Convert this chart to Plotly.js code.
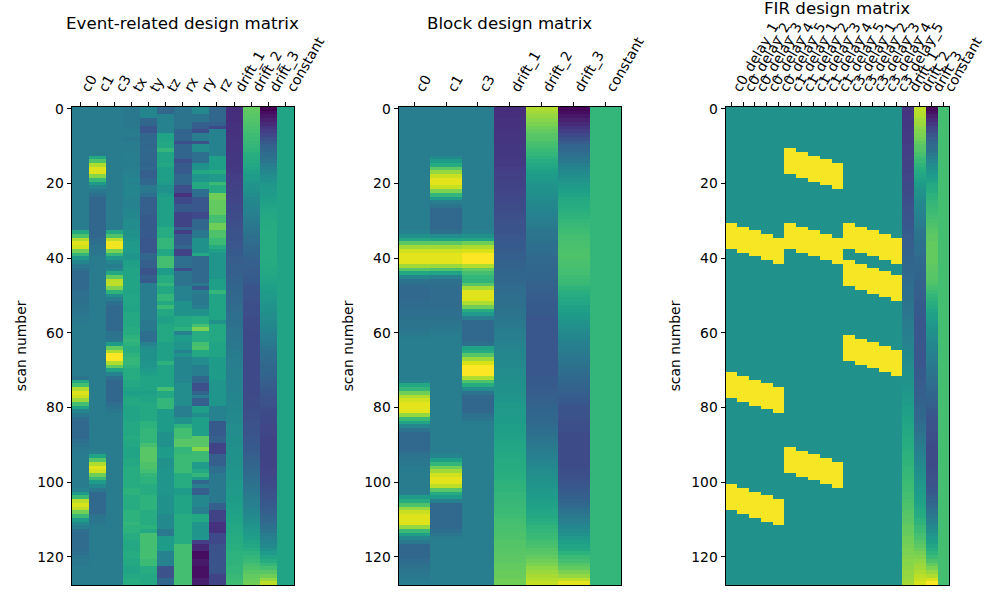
<!DOCTYPE html>
<html>
<head>
<meta charset="utf-8">
<script src="https://cdn.plot.ly/plotly-3.0.1.min.js"></script>
<style>html,body{margin:0;padding:0;background:#fff}</style>
</head>
<body>
<div id="chart" style="width:1000px;height:600px"></div>
<script>
// ---------- Tick labels ----------
const eventLabels = ["c0","c1","c3","tx","ty","tz","rx","ry","rz","drift_1","drift_2","drift_3","constant"];
const blockLabels = ["c0","c1","c3","drift_1","drift_2","drift_3","constant"];
const firLabels = ["c0_delay_1","c0_delay_2","c0_delay_3","c0_delay_4","c0_delay_5",
  "c1_delay_1","c1_delay_2","c1_delay_3","c1_delay_4","c1_delay_5",
  "c3_delay_1","c3_delay_2","c3_delay_3","c3_delay_4","c3_delay_5",
  "drift_1","drift_2","drift_3","constant"];
const yTicks = [0,20,40,60,80,100,120];

// ---------- Event-related design matrix (colour level in percent, one value per scan) ----------
const ev_c0 = [41,41,41,41,41,41,41,41,41,41,41,41,41,41,41,41,
41,41,41,41,41,41,41,41,41,41,41,41,41,41,41,41,
41,60,72,88,95,93,78,66,53,45,40,37,34,34,34,34,
34,36,36,37,37,38,38,39,40,40,41,41,41,41,41,41,
41,41,41,41,41,41,41,41,38,60,70,88,95,92,85,70,
58,45,40,35,34,34,34,34,34,36,38,40,41,41,41,41,
41,41,41,41,41,41,44,55,68,90,94,90,78,68,55,47,
42,36,35,35,35,35,35,37,39,40,40,41,41,41,41,41];
const ev_c1 = [41,41,41,41,41,41,41,41,41,41,41,41,41,60,72,88,
95,95,82,68,55,45,40,36,33,33,33,33,33,33,33,33,
33,33,33,35,37,38,39,40,41,41,41,41,41,41,41,41,
41,41,41,41,41,41,41,41,41,41,41,41,41,41,41,41,
41,41,41,41,41,41,41,41,41,41,41,41,41,41,41,41,
41,41,41,41,41,41,41,41,41,41,41,41,43,58,73,88,
96,93,78,68,55,47,40,34,34,34,34,34,34,38,39,40,
41,41,41,41,41,41,41,41,41,41,41,41,41,41,41,41];
const ev_c3 = [41,41,41,41,41,41,41,41,41,41,41,41,41,41,41,41,
41,41,41,41,41,41,41,41,41,41,41,41,41,41,41,41,
41,60,72,90,98,98,80,66,53,45,42,46,60,76,90,90,
80,65,50,42,37,34,34,34,34,34,34,34,38,38,40,55,
76,88,100,100,88,76,58,44,36,33,33,33,33,33,33,36,
38,40,41,41,41,41,41,41,41,41,41,41,41,41,41,41,
41,41,41,41,41,41,41,41,41,41,41,41,41,41,41,41,
41,41,41,41,41,41,41,41,41,41,41,41,41,41,41,41];
const ev_tx = [40,40,40,40,40,40,41,41,40,41,41,41,42,42,42,41,
42,43,44,45,44,45,45,45,44,44,44,45,46,46,48,48,
48,50,50,52,54,54,54,52,52,56,57,58,58,58,58,58,
58,58,59,59,59,58,58,60,60,60,60,62,62,64,66,64,
62,62,64,66,66,64,62,62,62,60,60,58,56,58,60,60,
58,58,58,58,60,60,60,60,62,60,60,58,58,58,60,60,
62,62,62,62,62,62,64,64,62,62,62,62,64,64,64,66,
64,64,62,62,60,60,60,62,62,60,60,58,58,60,62,62];
const ev_ty = [45,45,45,33,33,27,27,33,33,34,33,34,33,32,33,32,
34,30,30,33,34,40,40,36,30,30,30,30,30,28,28,28,
28,28,28,27,27,27,27,33,33,30,30,26,26,30,28,42,
42,42,42,42,42,42,42,42,42,40,40,40,36,36,36,44,
48,50,50,50,52,52,54,56,58,58,58,58,56,58,58,60,
60,60,60,60,64,64,66,66,66,66,70,74,74,74,74,72,
72,70,66,64,64,62,62,62,64,64,64,64,62,62,62,62,
64,60,70,70,70,70,70,70,70,68,68,62,62,60,60,60];
const ev_tz = [33,33,44,44,44,44,44,58,58,60,60,66,58,58,58,60,
56,56,56,56,54,50,50,55,57,57,57,57,57,57,57,57,
62,62,62,66,66,66,60,60,70,70,70,55,55,62,62,66,
60,60,66,66,60,68,60,60,57,57,60,60,60,60,60,57,
57,57,57,57,64,58,58,58,58,58,58,70,60,60,66,66,
66,55,55,55,55,55,55,50,50,50,50,55,55,55,50,50,
50,52,52,52,52,52,52,52,50,50,50,50,50,47,47,47,
47,40,40,55,55,55,55,44,44,44,44,25,25,25,33,33];
const ev_rx = [38,38,38,38,38,38,32,32,32,24,32,32,32,32,24,28,
28,28,33,33,33,24,24,14,22,22,28,28,20,20,20,20,
30,18,28,28,28,33,20,20,36,36,36,24,38,38,38,38,
44,44,44,44,50,50,50,50,60,60,60,64,44,55,55,52,
52,44,50,45,45,45,45,45,45,45,48,48,48,48,48,48,
42,42,42,50,50,64,70,70,70,74,74,66,66,68,68,68,
68,68,62,62,62,62,55,55,58,58,58,58,58,62,62,62,
62,62,62,62,62,70,70,70,70,70,70,70,70,70,70,70];
const ev_ry = [47,47,38,38,30,30,24,42,42,25,48,48,36,36,36,50,
50,60,52,52,60,60,36,36,27,27,27,27,22,22,33,33,
33,40,40,50,50,50,50,60,34,34,34,34,34,34,34,40,
28,42,40,40,40,42,50,50,62,62,70,80,62,62,62,70,
72,60,60,48,48,42,42,42,33,33,24,24,32,42,30,30,
56,56,48,56,56,56,56,56,74,74,74,82,68,68,68,54,
54,60,66,55,33,42,30,30,46,46,46,42,42,60,60,52,
52,52,52,52,18,11,11,3,3,7,7,4,4,4,8,8];
const ev_rz = [33,33,33,33,30,22,44,44,44,44,44,44,44,56,56,56,
56,62,54,54,68,62,62,78,78,76,76,76,76,70,70,78,
78,72,72,68,68,62,56,52,52,52,52,52,52,52,56,56,
56,66,58,58,58,58,58,58,58,50,60,60,60,60,60,58,
58,58,58,55,55,55,55,55,55,52,52,52,52,52,52,52,
44,44,44,44,28,28,28,28,30,30,20,20,20,30,30,30,
36,36,40,40,40,40,40,40,40,40,30,30,20,20,20,14,
14,14,22,22,22,26,26,26,26,26,26,26,26,20,20,20];
const ev_drift1 = [13,13,13,13,14,14,14,14,15,15,15,15,16,16,16,16,
17,17,18,18,19,19,20,20,21,21,22,22,23,23,24,24,
25,25,26,26,27,27,28,28,29,29,30,30,30,31,31,32,
32,33,33,34,34,35,35,36,36,37,37,38,38,39,39,40,
40,41,41,42,42,42,43,43,43,44,44,44,45,45,45,46,
46,46,47,47,47,48,48,48,49,49,49,50,50,50,51,51,
51,52,52,52,53,53,54,54,55,55,56,57,57,58,58,59,
60,60,61,62,62,63,63,64,64,65,65,66,66,67,68,69];
const ev_drift2 = [76,75,74,73,72,71,70,69,68,67,66,65,63,62,61,60,
58,57,55,54,52,51,50,48,47,46,45,44,43,42,41,40,
39,38,37,36,35,34,33,32,31,30,30,29,29,28,28,27,
26,26,25,25,24,24,24,24,23,23,23,23,22,22,22,22,
22,22,22,22,22,22,22,22,22,22,22,22,22,23,23,23,
23,24,24,24,25,25,26,26,27,27,28,28,29,30,31,32,
33,34,35,36,37,38,39,40,41,42,43,44,46,47,48,50,
52,53,55,56,58,60,62,64,66,68,70,72,74,76,77,78];
const ev_drift3 = [0,3,6,9,12,15,18,21,25,28,31,33,35,37,39,42,
44,46,48,50,52,53,54,55,56,57,58,59,60,60,61,61,
62,62,62,62,62,62,62,62,62,61,61,60,60,59,58,57,
56,55,54,53,52,51,50,49,48,47,46,45,43,42,41,40,
38,37,36,35,34,33,33,32,31,30,29,28,27,26,25,25,
24,23,23,22,22,21,21,21,20,20,20,20,20,20,20,20,
20,21,21,22,22,23,24,25,26,27,28,29,30,32,33,35,
37,39,41,43,45,47,50,54,58,62,66,70,74,78,84,90];
const ev_const = [58,58,58,58,58,58,58,58,58,58,58,58,58,58,58,58,
58,58,58,58,58,58,58,58,58,58,58,58,58,58,58,58,
58,58,58,58,58,58,58,58,58,58,58,58,58,58,58,58,
58,58,58,58,58,58,58,58,58,58,58,58,58,58,58,58,
58,58,58,58,58,58,58,58,58,58,58,58,58,58,58,58,
58,58,58,58,58,58,58,58,58,58,58,58,58,58,58,58,
58,58,58,58,58,58,58,58,58,58,58,58,58,58,58,58,
58,58,58,58,58,58,58,58,58,58,58,58,58,58,58,58];

// ---------- Block design matrix ----------
const bl_c0 = [42,42,42,42,42,42,42,42,42,42,42,42,42,42,42,42,
42,42,42,42,42,42,42,42,42,42,42,42,42,42,42,42,
42,44,50,60,75,86,93,96,96,96,86,74,60,46,38,36,
34,34,34,34,35,35,36,36,37,38,38,39,40,41,42,42,
42,42,42,42,42,42,42,42,42,45,60,66,78,88,93,96,
96,96,84,68,58,46,38,34,34,34,34,34,36,38,39,40,
41,41,41,41,41,41,41,42,55,62,72,84,92,95,95,95,
84,68,56,46,40,33,33,33,33,35,37,38,39,40,41,42];
const bl_c1 = [42,42,42,42,42,42,42,42,42,42,42,42,42,47,55,62,
75,84,92,96,96,92,80,66,55,42,38,34,34,34,34,34,
34,37,48,58,75,86,93,96,96,96,85,72,58,44,37,36,
35,35,35,35,35,35,36,36,37,38,39,40,41,42,42,42,
42,42,42,42,42,42,42,42,42,42,42,42,42,42,42,42,
42,42,42,42,42,42,42,42,42,42,42,42,42,45,56,66,
78,86,93,96,96,90,74,62,55,43,34,34,34,34,34,34,
34,37,39,41,42,42,42,42,42,42,42,42,42,42,42,42];
const bl_c3 = [42,42,42,42,42,42,42,42,42,42,42,42,42,42,42,42,
42,42,42,42,42,42,42,42,42,42,42,42,42,42,42,42,
42,44,50,58,78,88,94,100,100,100,88,76,70,66,65,74,
87,95,95,95,88,78,62,54,42,34,34,34,34,34,34,37,
58,62,74,85,94,100,100,100,88,72,62,48,38,33,33,33,
33,33,37,39,41,42,42,42,42,42,42,42,42,42,42,42,
42,42,42,42,42,42,42,42,42,42,42,42,42,42,42,42,
42,42,42,42,42,42,42,42,42,42,42,42,42,42,42,42];
const bl_drift1 = [13,13,13,14,14,14,15,15,15,15,16,16,16,16,17,17,
18,18,19,19,20,20,21,21,22,22,23,23,24,24,25,25,
26,26,27,27,28,28,29,30,30,31,31,32,32,33,33,34,
35,35,36,36,37,37,38,38,39,40,40,41,42,42,43,44,
45,45,46,46,47,47,48,48,49,49,50,50,51,51,52,53,
53,54,54,55,55,56,56,57,57,58,59,59,60,60,61,61,
62,62,63,63,64,65,65,66,66,67,67,68,68,69,70,70,
71,71,72,72,73,73,74,74,75,75,76,76,77,77,78,78];
const bl_drift2 = [88,86,84,82,80,78,76,74,73,71,70,68,66,64,62,60,
58,56,55,53,52,51,50,49,48,47,46,45,44,43,42,41,
40,39,38,38,37,36,36,35,34,34,33,33,32,32,31,31,
30,30,29,29,28,28,28,28,27,27,27,27,27,27,27,27,
27,27,27,27,27,27,27,27,28,28,28,29,29,30,30,31,
32,32,33,33,34,35,36,37,38,39,40,41,42,43,44,46,
47,48,49,50,51,52,53,54,55,56,57,58,59,60,62,63,
65,66,67,68,70,71,73,74,76,78,80,83,85,87,89,91];
const bl_drift3 = [1,3,6,9,12,15,18,22,26,29,32,34,36,38,40,43,
45,47,49,51,53,55,56,58,60,61,62,63,64,65,66,67,
68,69,70,70,71,71,72,72,72,71,71,70,70,69,68,67,
65,63,62,60,59,57,56,55,53,51,50,48,47,46,44,43,
42,41,40,39,38,37,36,35,34,33,32,31,30,29,28,27,
26,26,25,25,24,24,24,23,23,23,23,23,23,23,23,23,
23,24,24,25,26,27,28,29,30,32,34,36,38,40,42,44,
46,48,50,53,56,58,60,64,68,70,73,76,80,84,90,96];
const bl_const = [66,66,66,66,66,66,66,66,66,66,66,66,66,66,66,66,
66,66,66,66,66,66,66,66,66,66,66,66,66,66,66,66,
66,66,66,66,66,66,66,66,66,66,66,66,66,66,66,66,
66,66,66,66,66,66,66,66,66,66,66,66,66,66,66,66,
66,66,66,66,66,66,66,66,66,66,66,66,66,66,66,66,
66,66,66,66,66,66,66,66,66,66,66,66,66,66,66,66,
66,66,66,66,66,66,66,66,66,66,66,66,66,66,66,66,
66,66,66,66,66,66,66,66,66,66,66,66,66,66,66,66];

// ---------- FIR design matrix: first/last active scan per delay regressor ----------
const fir_c0 = [
  [[31,37],[71,77],[101,107]],
  [[32,38],[72,78],[102,108]],
  [[33,39],[73,79],[103,109]],
  [[34,40],[74,80],[104,110]],
  [[35,41],[75,81],[105,111]]];
const fir_c1 = [
  [[11,17],[31,37],[91,97]],
  [[12,18],[32,38],[92,98]],
  [[13,19],[33,39],[93,99]],
  [[14,20],[34,40],[94,100]],
  [[15,21],[35,41],[95,101]]];
const fir_c3 = [
  [[31,37],[41,47],[61,67]],
  [[32,38],[42,48],[62,68]],
  [[33,39],[43,49],[63,69]],
  [[34,40],[44,50],[64,70]],
  [[35,41],[45,51],[65,71]]];
const firOff = 50, firOn = 99;
const fir_drift1 = [15,15,15,16,16,16,17,17,17,17,18,18,18,19,19,19,
20,20,21,21,22,22,23,23,24,24,25,25,26,26,27,27,
28,28,29,29,30,30,31,31,32,32,33,33,34,34,35,35,
36,36,37,37,38,38,39,39,40,41,41,42,42,43,44,44,
45,46,46,47,48,48,49,50,50,51,52,52,53,54,54,55,
56,56,57,58,58,59,60,60,61,62,62,63,64,64,65,65,
66,66,67,67,68,69,69,70,70,71,72,72,73,74,74,75,
76,76,77,78,78,79,80,80,81,82,82,83,84,84,85,86];
const fir_drift2 = [90,89,88,86,85,83,81,80,78,76,74,73,71,69,67,65,
63,61,59,57,55,53,51,50,49,47,46,45,44,43,42,41,
40,39,38,38,37,36,36,35,34,34,33,33,32,32,31,31,
30,30,29,29,28,28,28,28,27,27,27,27,27,27,27,27,
27,27,27,27,27,27,28,28,28,29,29,30,30,30,31,31,
32,33,33,34,35,36,37,38,39,40,41,42,43,44,45,47,
48,49,50,51,52,53,54,55,56,57,58,60,61,62,64,65,
67,68,70,71,73,75,77,79,81,83,85,86,88,90,92,94];
const fir_drift3 = [2,4,8,12,16,20,23,27,30,33,35,37,40,43,45,48,
50,52,55,57,60,61,62,64,65,66,67,68,69,70,71,72,
73,74,75,75,76,76,76,76,76,76,75,75,74,74,73,72,
70,68,66,65,63,61,59,57,56,54,52,51,50,48,47,46,
45,44,43,42,41,40,39,38,37,36,35,34,33,32,31,30,
29,28,27,26,26,25,25,24,24,24,23,23,23,23,23,23,
23,24,24,25,25,26,27,28,30,32,34,36,38,40,42,44,
47,49,51,54,56,59,62,65,68,72,76,80,84,88,94,100];
const fir_const = [70,70,70,70,70,70,70,70,70,70,70,70,70,70,70,70,
70,70,70,70,70,70,70,70,70,70,70,70,70,70,70,70,
70,70,70,70,70,70,70,70,70,70,70,70,70,70,70,70,
70,70,70,70,70,70,70,70,70,70,70,70,70,70,70,70,
70,70,70,70,70,70,70,70,70,70,70,70,70,70,70,70,
70,70,70,70,70,70,70,70,70,70,70,70,70,70,70,70,
70,70,70,70,70,70,70,70,70,70,70,70,70,70,70,70,
70,70,70,70,70,70,70,70,70,70,70,70,70,70,70,70];

// ---------- Assembly ----------
const N = ev_c0.length;
function expand(ranges){
  const col = [];
  for (let r = 0; r < N; r++) col.push(ranges.some(p => r >= p[0] && r <= p[1]) ? firOn : firOff);
  return col;
}
const eventCols = [ev_c0,ev_c1,ev_c3,ev_tx,ev_ty,ev_tz,ev_rx,ev_ry,ev_rz,ev_drift1,ev_drift2,ev_drift3,ev_const];
const blockCols = [bl_c0,bl_c1,bl_c3,bl_drift1,bl_drift2,bl_drift3,bl_const];
const firCols = [...fir_c0,...fir_c1,...fir_c3].map(expand).concat([fir_drift1,fir_drift2,fir_drift3,fir_const]);

function toRows(cols){
  const z = [];
  for (let r = 0; r < N; r++) z.push(cols.map(c => c[r] / 100));
  return z;
}
const font = "DejaVu Sans, sans-serif";
const W = 1000, H = 600, L = 71, R = 50, T = 107, B = 15;
const plotW = W - L - R;
const panels = [
  {x0:71.5, x1:294, tc:182, cols:eventCols, labels:eventLabels, title:"Event-related design matrix", tpx:23},
  {x0:398.5, x1:621, tc:509, cols:blockCols, labels:blockLabels, title:"Block design matrix", tpx:23},
  {x0:725.5, x1:949, tc:837, cols:firCols, labels:firLabels, title:"FIR design matrix", tpx:8}
];
const data = [], annotations = [];
const layout = {
  width:W, height:H, margin:{l:L,r:R,t:T,b:B,pad:0},
  paper_bgcolor:"#fff", plot_bgcolor:"#fff",
  font:{family:font,size:13.89,color:"#000"},
  showlegend:false, hovermode:false
};
panels.forEach((p,i) => {
  const n = i ? String(i+1) : "";
  const xid = "x"+n, yid = "y"+n;
  data.push({
    type:"heatmap", z:toRows(p.cols), x:p.labels.map((_,k)=>k), y:Array.from({length:N},(_,k)=>k),
    xaxis:xid, yaxis:yid, colorscale:"Viridis", zmin:0, zmax:1, showscale:false, hoverinfo:"skip"
  });
  const d = [(p.x0-L)/plotW, (p.x1-L)/plotW];
  layout["xaxis"+n] = {
    domain:d, anchor:yid, side:"top", range:[-0.5,p.labels.length-0.5],
    tickmode:"array", tickvals:p.labels.map((_,k)=>k), ticktext:p.labels,
    tickangle:-60, ticks:"outside", ticklen:4, tickwidth:1, tickcolor:"#000",
    ticklabelshift:3,
    showline:true, linecolor:"#000", linewidth:1, mirror:true,
    showgrid:false, zeroline:false, tickfont:{family:font,size:13.89,color:"#000"}
  };
  layout["yaxis"+n] = {
    domain:[0,1], anchor:xid, range:[127.5,-0.5],
    tickmode:"array", tickvals:yTicks, ticktext:yTicks.map(String),
    ticks:"outside", ticklen:4, tickwidth:1, tickcolor:"#000",
    showline:true, linecolor:"#000", linewidth:1, mirror:true,
    showgrid:false, zeroline:false, tickfont:{family:font,size:13.89,color:"#000"},
    title:{text:"scan number", font:{family:font,size:13.89,color:"#000"}, standoff:7}
  };
  annotations.push({
    text:p.title, xref:"paper", yref:"paper", showarrow:false,
    x:(p.tc-L)/plotW, y:1+(T-p.tpx)/(H-T-B),
    xanchor:"center", yanchor:"middle", font:{family:font,size:16.67,color:"#000"}
  });
});
layout.annotations = annotations;
Plotly.newPlot("chart", data, layout, {displayModeBar:false, staticPlot:true});
</script>
</body>
</html>
